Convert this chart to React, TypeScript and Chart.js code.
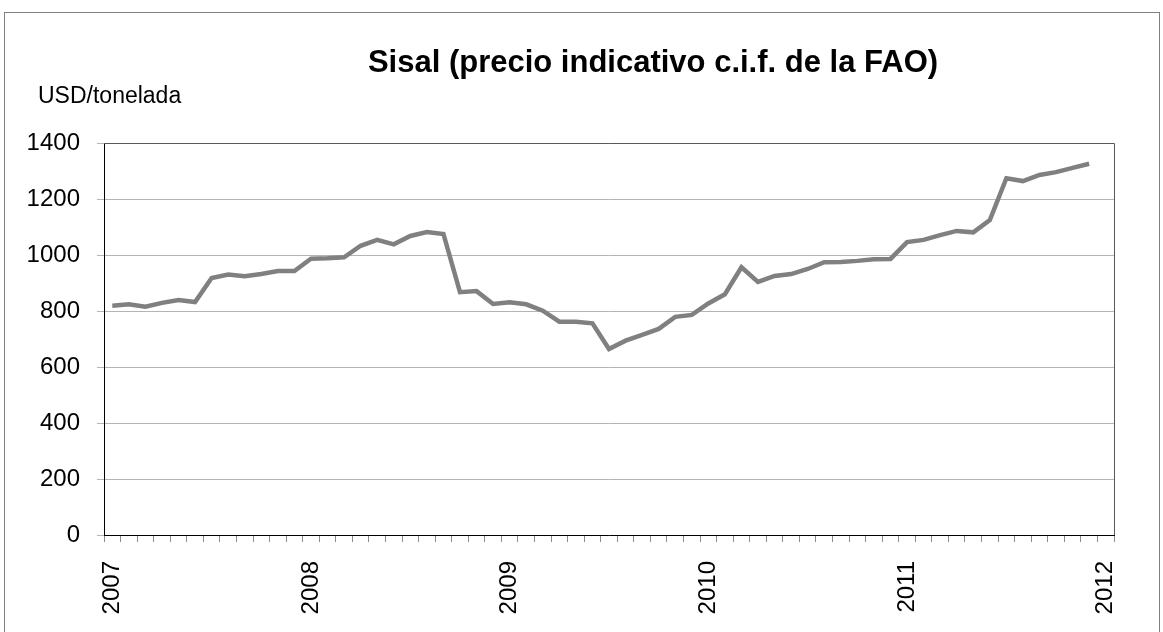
import React, { useEffect, useRef } from 'react';
import { Chart, registerables } from 'chart.js';

Chart.register(...registerables);

const TITLE = 'Sisal (precio indicativo c.i.f. de la FAO)';
const UNIT = 'USD/tonelada';
const YEARS = ['2007', '2008', '2009', '2010', '2011', '2012'];
const MONTHS = ['01', '02', '03', '04', '05', '06', '07', '08', '09', '10', '11', '12'];
// Monthly indicative price, Jan 2007 – Dec 2011 (USD/tonne)
const PRICES = [
  819, 824, 815, 829, 839, 832, 918, 930, 924, 932, 943, 943,
  987, 988, 992, 1033, 1054, 1038, 1068, 1082, 1075, 867, 871, 825,
  831, 824, 801, 762, 762, 756, 664, 694, 715, 736, 779, 786,
  827, 860, 956, 904, 925, 932, 950, 974, 975, 979, 985, 986,
  1046, 1054, 1071, 1086, 1081, 1125, 1274, 1264, 1286, 1296, 1311, 1326,
];
const Y_MIN = 0;
const Y_MAX = 1400;
const Y_STEP = 200;

const CATEGORIES: string[] = [
  ...YEARS.slice(0, 5).flatMap((y) => MONTHS.map((m) => `${y}-${m}`)),
  `${YEARS[5]}-01`,
];

const FONT = '"Liberation Sans", Arial, Helvetica, sans-serif';

const framePlugin = {
  id: 'frame',
  beforeDraw(chart: any) {
    const ctx = chart.ctx;
    ctx.save();
    ctx.strokeStyle = '#808080';
    ctx.lineWidth = 1;
    ctx.strokeRect(4.5, 12.5, 1155, 700);
    ctx.restore();
  },
  beforeDatasetsDraw(chart: any) {
    const { ctx, chartArea } = chart;
    ctx.save();
    ctx.strokeStyle = '#595959';
    ctx.lineWidth = 1;
    ctx.beginPath();
    ctx.moveTo(chartArea.left, Math.round(chartArea.top) + 0.5);
    ctx.lineTo(Math.round(chartArea.right) + 0.5, Math.round(chartArea.top) + 0.5);
    ctx.lineTo(Math.round(chartArea.right) + 0.5, chartArea.bottom);
    ctx.stroke();
    ctx.restore();
  },
};

export default function App() {
  const ref = useRef<HTMLCanvasElement | null>(null);

  useEffect(() => {
    if (!ref.current) return;
    const chart = new Chart(ref.current, {
      type: 'line',
      data: {
        labels: CATEGORIES,
        datasets: [
          {
            data: PRICES,
            borderColor: '#808080',
            borderWidth: 4.5,
            pointRadius: 0,
            tension: 0,
            fill: false,
          },
        ],
      },
      options: {
        responsive: false,
        animation: false,
        events: [],
        layout: { padding: { top: 143, right: 49, left: 0, bottom: 0 } },
        plugins: {
          legend: { display: false },
          title: { display: false },
          tooltip: { enabled: false },
        },
        scales: {
          x: {
            type: 'category',
            offset: true,
            afterFit(scale: any) {
              scale.height = 97;
            },
            grid: {
              offset: true,
              drawOnChartArea: false,
              drawTicks: true,
              tickLength: 7,
              color: '#8c8c8c',
            },
            border: { color: '#000000', width: 1 },
            ticks: {
              autoSkip: false,
              maxRotation: 90,
              minRotation: 90,
              padding: 19,
              color: '#000000',
              font: { family: FONT, size: 24 },
              callback: (_v: any, i: number) => (i % 12 === 0 ? CATEGORIES[i].slice(0, 4) : ''),
            },
          },
          y: {
            min: Y_MIN,
            max: Y_MAX,
            afterFit(scale: any) {
              scale.width = 104;
            },
            grid: {
              color: '#b4b4b4',
              tickLength: 7,
              drawTicks: true,
            },
            border: { color: '#000000', width: 1 },
            ticks: {
              stepSize: Y_STEP,
              padding: 17,
              color: '#000000',
              font: { family: FONT, size: 24 },
              callback: (v: any) => String(v),
            },
          },
        },
      },
      plugins: [framePlugin],
    });
    return () => chart.destroy();
  }, []);

  return (
    <div style={{ position: 'absolute', left: 0, top: 0, width: 1163, height: 632, overflow: 'hidden', background: '#fff' }}>
      <canvas ref={ref} width={1163} height={632} style={{ position: 'absolute', left: 0, top: 0 }} />
      <div
        style={{
          position: 'absolute',
          left: 353,
          top: 46,
          width: 600,
          textAlign: 'center',
          font: `bold 31px ${FONT}`,
          lineHeight: '31px',
          color: '#000',
          whiteSpace: 'nowrap',
        }}
      >
        {TITLE}
      </div>
      <div
        style={{
          position: 'absolute',
          left: 38,
          top: 84,
          font: `23px ${FONT}`,
          lineHeight: '23px',
          color: '#000',
          whiteSpace: 'nowrap',
        }}
      >
        {UNIT}
      </div>
    </div>
  );
}
